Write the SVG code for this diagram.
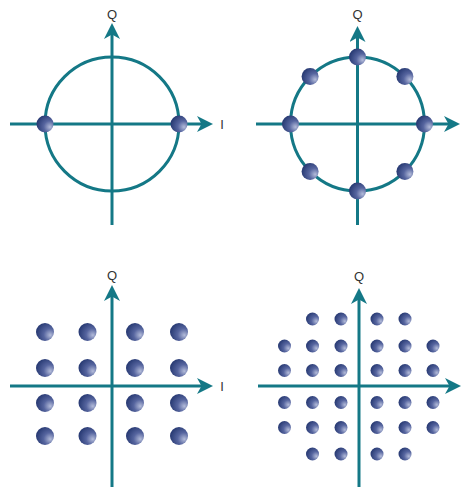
<svg xmlns="http://www.w3.org/2000/svg" width="463" height="487" viewBox="0 0 463 487">
<defs>
<radialGradient id="dotg" cx="0.72" cy="0.62" r="0.85" fx="0.8" fy="0.68">
<stop offset="0" stop-color="#b4bcda"/>
<stop offset="0.4" stop-color="#56659f"/>
<stop offset="1" stop-color="#1a2d66"/>
</radialGradient>
<marker id="arr" viewBox="0 0 16 16" refX="8" refY="8" markerWidth="16" markerHeight="16" markerUnits="userSpaceOnUse" orient="auto">
<path d="M16,8 L0,0 L4.5,8 L0,16 Z" fill="#147886"/>
</marker>
</defs>
<style>
.ax-a{stroke:#147886;stroke-width:3;fill:none;marker-end:url(#arr)}
.ring{stroke:#147886;stroke-width:3;fill:none}
.lbl{font-family:"Liberation Sans",Arial,sans-serif;font-size:13px;fill:#333;text-anchor:middle}
.d{fill:url(#dotg)}
</style>
<g id="connectors">
<line class="ax-a" x1="112" y1="225" x2="112" y2="31"/>
<line class="ax-a" x1="10" y1="124" x2="205" y2="124"/>
<line class="ax-a" x1="357.5" y1="225" x2="357.5" y2="34"/>
<line class="ax-a" x1="256" y1="124" x2="452" y2="124"/>
<line class="ax-a" x1="112" y1="487" x2="112" y2="293"/>
<line class="ax-a" x1="10" y1="386" x2="205" y2="386"/>
<line class="ax-a" x1="359" y1="487" x2="359" y2="296"/>
<line class="ax-a" x1="258" y1="386" x2="453" y2="386"/>
</g>
<g id="panel-bpsk">
<circle class="ring" cx="112" cy="124" r="67"/>
<text class="lbl" x="112" y="19">Q</text>
<text class="lbl" x="222" y="129">I</text>
<circle class="d" cx="45" cy="124" r="8.5"/>
<circle class="d" cx="179" cy="124" r="8.5"/>
</g>
<g id="panel-8psk">
<circle class="ring" cx="357.5" cy="124" r="67"/>
<text class="lbl" x="357.5" y="19">Q</text>
<circle class="d" cx="424.5" cy="124" r="8.5"/>
<circle class="d" cx="404.9" cy="76.6" r="8.5"/>
<circle class="d" cx="357.5" cy="57" r="8.5"/>
<circle class="d" cx="310.1" cy="76.6" r="8.5"/>
<circle class="d" cx="290.5" cy="124" r="8.5"/>
<circle class="d" cx="310.1" cy="171.4" r="8.5"/>
<circle class="d" cx="357.5" cy="191" r="8.5"/>
<circle class="d" cx="404.9" cy="171.4" r="8.5"/>
</g>
<g id="panel-16qam">
<text class="lbl" x="112" y="280">Q</text>
<text class="lbl" x="222" y="391">I</text>
<circle class="d" cx="45" cy="332" r="9"/><circle class="d" cx="87.5" cy="332" r="9"/><circle class="d" cx="135" cy="332" r="9"/><circle class="d" cx="179" cy="332" r="9"/>
<circle class="d" cx="45" cy="368" r="9"/><circle class="d" cx="87.5" cy="368" r="9"/><circle class="d" cx="135" cy="368" r="9"/><circle class="d" cx="179" cy="368" r="9"/>
<circle class="d" cx="45" cy="403" r="9"/><circle class="d" cx="87.5" cy="403" r="9"/><circle class="d" cx="135" cy="403" r="9"/><circle class="d" cx="179" cy="403" r="9"/>
<circle class="d" cx="45" cy="436" r="9"/><circle class="d" cx="87.5" cy="436" r="9"/><circle class="d" cx="135" cy="436" r="9"/><circle class="d" cx="179" cy="436" r="9"/>
</g>
<g id="panel-32qam">
<text class="lbl" x="359" y="281">Q</text>
<circle class="d" cx="312.5" cy="319" r="6.5"/><circle class="d" cx="341" cy="319" r="6.5"/><circle class="d" cx="377" cy="319" r="6.5"/><circle class="d" cx="405" cy="319" r="6.5"/>
<circle class="d" cx="284.5" cy="346" r="6.5"/><circle class="d" cx="312.5" cy="346" r="6.5"/><circle class="d" cx="341" cy="346" r="6.5"/><circle class="d" cx="377" cy="346" r="6.5"/><circle class="d" cx="405" cy="346" r="6.5"/><circle class="d" cx="433" cy="346" r="6.5"/>
<circle class="d" cx="284.5" cy="370.5" r="6.5"/><circle class="d" cx="312.5" cy="370.5" r="6.5"/><circle class="d" cx="341" cy="370.5" r="6.5"/><circle class="d" cx="377" cy="370.5" r="6.5"/><circle class="d" cx="405" cy="370.5" r="6.5"/><circle class="d" cx="433" cy="370.5" r="6.5"/>
<circle class="d" cx="284.5" cy="402.5" r="6.5"/><circle class="d" cx="312.5" cy="402.5" r="6.5"/><circle class="d" cx="341" cy="402.5" r="6.5"/><circle class="d" cx="377" cy="402.5" r="6.5"/><circle class="d" cx="405" cy="402.5" r="6.5"/><circle class="d" cx="433" cy="402.5" r="6.5"/>
<circle class="d" cx="284.5" cy="427.5" r="6.5"/><circle class="d" cx="312.5" cy="427.5" r="6.5"/><circle class="d" cx="341" cy="427.5" r="6.5"/><circle class="d" cx="377" cy="427.5" r="6.5"/><circle class="d" cx="405" cy="427.5" r="6.5"/><circle class="d" cx="433" cy="427.5" r="6.5"/>
<circle class="d" cx="312.5" cy="454" r="6.5"/><circle class="d" cx="341" cy="454" r="6.5"/><circle class="d" cx="377" cy="454" r="6.5"/><circle class="d" cx="405" cy="454" r="6.5"/>
</g>
</svg>
